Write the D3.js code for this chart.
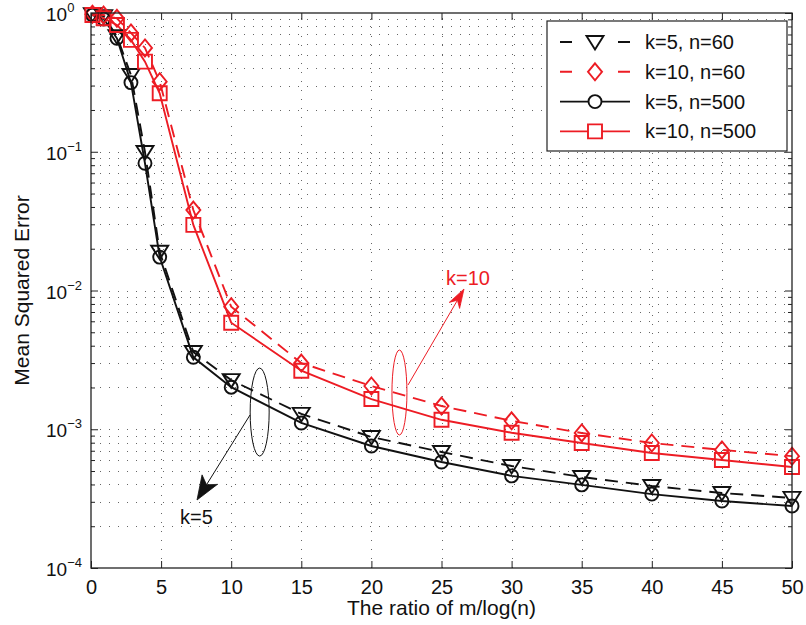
<!DOCTYPE html>
<html><head><meta charset="utf-8">
<script src="https://cdn.jsdelivr.net/npm/d3@7"></script>
<style>
body{margin:0;background:#fff;}
svg{display:block;font-family:"Liberation Sans",Arial,Helvetica,sans-serif;}
</style></head>
<body>
<svg id="chart" width="806" height="625"></svg>
<script>
// ---- data ----
const xValues = [0.1, 0.9, 1.85, 2.85, 3.85, 4.9, 7.3, 10, 15, 20, 25, 30, 35, 40, 45, 50];
const k5n60   = [0.98, 0.95, 0.68, 0.357, 0.0996, 0.019, 0.0036, 0.00226, 0.00129, 0.000879, 0.000686, 0.000543, 0.000453, 0.00039, 0.000347, 0.00032];
const k10n60  = [0.98, 0.967, 0.916, 0.718, 0.56, 0.32, 0.038, 0.00764, 0.0030, 0.00205, 0.00147, 0.00115, 0.00094, 0.000796, 0.00071, 0.00064];
const k5n500  = [0.967, 0.905, 0.657, 0.315, 0.0826, 0.0174, 0.0033, 0.00201, 0.00111, 0.000757, 0.000581, 0.000461, 0.000397, 0.000341, 0.000304, 0.00028];
const k10n500 = [0.967, 0.916, 0.82, 0.64, 0.446, 0.264, 0.0297, 0.00586, 0.00264, 0.00165, 0.00117, 0.000944, 0.000796, 0.000674, 0.0006, 0.000535];
const seriesNames = ["k=5, n=60", "k=10, n=60", "k=5, n=500", "k=10, n=500"];
const xTicks = [0, 5, 10, 15, 20, 25, 30, 35, 40, 45, 50];
const yDecades = [1e-4, 1e-3, 1e-2, 1e-1, 1];
const yExponents = ["−4", "−3", "−2", "−1", "0"];
const xLabel = "The ratio of m/log(n)";
const yLabel = "Mean Squared Error";
const annotations = ["k=5", "k=10"];

// ---- layout ----
const RED = "#ed1c24", BLK = "#111";
const svg = d3.select("#chart");
const L = 91, R = 792, T = 13, B = 568;
const x = d3.scaleLinear().domain([0, 50]).range([L, R]);
const y = d3.scaleLog().domain([1e-4, 1]).range([B, T]);

// minor log values
const minorVals = [];
for (let e = -4; e < 0; e++) for (let m = 2; m <= 9; m++) minorVals.push(m * Math.pow(10, e));

// grid
const grid = svg.append("g").attr("stroke", "#666").attr("stroke-width", 1).attr("stroke-dasharray", "1,8").attr("fill", "none");
minorVals.concat([1e-3, 1e-2, 1e-1]).forEach(v => {
  grid.append("line").attr("x1", L).attr("x2", R).attr("y1", Math.round(y(v)) + 0.5).attr("y2", Math.round(y(v)) + 0.5);
});
xTicks.slice(1, -1).forEach(v => {
  grid.append("line").attr("y1", B).attr("y2", T).attr("x1", Math.round(x(v)) + 0.5).attr("x2", Math.round(x(v)) + 0.5);
});

// axes via d3 axis generators (ticks inward)
const gB = svg.append("g").attr("transform", `translate(0,${B})`)
  .call(d3.axisBottom(x).tickValues(xTicks).tickSize(-7).tickFormat(d3.format("d")));
const gT = svg.append("g").attr("transform", `translate(0,${T})`)
  .call(d3.axisTop(x).tickValues(xTicks).tickSize(-7).tickFormat(""));
const gL = svg.append("g").attr("transform", `translate(${L},0)`)
  .call(d3.axisLeft(y).tickValues(yDecades).tickSize(-7).tickFormat(""));
const gLm = svg.append("g").attr("transform", `translate(${L},0)`)
  .call(d3.axisLeft(y).tickValues(minorVals).tickSize(-4).tickFormat(""));
const gR = svg.append("g").attr("transform", `translate(${R},0)`)
  .call(d3.axisRight(y).tickValues(yDecades).tickSize(-7).tickFormat(""));
const gRm = svg.append("g").attr("transform", `translate(${R},0)`)
  .call(d3.axisRight(y).tickValues(minorVals).tickSize(-4).tickFormat(""));
[gB, gT, gL, gLm, gR, gRm].forEach(g => {
  g.select(".domain").remove();
  g.selectAll(".tick line").attr("stroke", "#222").attr("stroke-width", 1);
});
gB.selectAll(".tick text").attr("font-size", 20).attr("fill", "#111").attr("dy", "0").attr("y", 26)
  .attr("font-family", "Liberation Sans, Arial, sans-serif");

// y tick labels 10^e
yDecades.forEach((v, i) => {
  const t = svg.append("text").attr("x", 46).attr("y", y(v) + 8).attr("font-size", 19).attr("fill", "#111");
  t.append("tspan").text("10");
  t.append("tspan").attr("dy", -9).attr("font-size", 13).text(yExponents[i]);
});

// axis titles
svg.append("text").attr("x", (L + R) / 2).attr("y", 615).attr("text-anchor", "middle")
  .attr("font-size", 21).attr("fill", "#111").text(xLabel);
svg.append("text").attr("transform", `translate(29,${(T + B) / 2}) rotate(-90)`).attr("text-anchor", "middle")
  .attr("font-size", 21).attr("fill", "#111").text(yLabel);

// series
const series = [
  {name: seriesNames[0], vals: k5n60,   color: BLK, dash: "13,8", marker: "tri"},
  {name: seriesNames[1], vals: k10n60,  color: RED, dash: "13,8", marker: "dia"},
  {name: seriesNames[2], vals: k5n500,  color: BLK, dash: null,   marker: "circ"},
  {name: seriesNames[3], vals: k10n500, color: RED, dash: null,   marker: "sq"}
];
const markerPath = {
  tri: "M-8.5,-6L8.5,-6L0,7.5Z",
  dia: "M0,-8.5L7,0L0,8.5L-7,0Z",
  sq: "M-7,-7L7,-7L7,7L-7,7Z"
};
function drawMarker(g, type, cx, cy, color, fill) {
  if (type === "circ") {
    g.append("circle").attr("cx", cx).attr("cy", cy).attr("r", 6.5)
      .attr("fill", fill).attr("stroke", color).attr("stroke-width", 1.9);
  } else {
    g.append("path").attr("d", markerPath[type]).attr("transform", `translate(${cx},${cy})`)
      .attr("fill", fill).attr("stroke", color).attr("stroke-width", 1.9).attr("stroke-linejoin", "miter");
  }
}
const line = d3.line().x(d => x(d[0])).y(d => y(d[1]));
const plot = svg.append("g");
series.forEach(s => {
  const pts = xValues.map((xv, i) => [xv, s.vals[i]]);
  plot.append("path").datum(pts).attr("d", line).attr("fill", "none")
    .attr("stroke", s.color).attr("stroke-width", 1.9)
    .attr("stroke-dasharray", s.dash);
});
series.forEach(s => {
  xValues.forEach((xv, i) => drawMarker(plot, s.marker, x(xv), y(s.vals[i]), s.color, "none"));
});

// frame
svg.append("rect").attr("x", L).attr("y", T).attr("width", R - L).attr("height", B - T)
  .attr("fill", "none").attr("stroke", "#222").attr("stroke-width", 1.3);

// annotations
function arrow(color, x1, y1, x2, y2, len, hw) {
  const g = svg.append("g");
  const ang = Math.atan2(y2 - y1, x2 - x1);
  const ux = Math.cos(ang), uy = Math.sin(ang), px = -uy, py = ux;
  const bx = x2 - ux * len, by = y2 - uy * len;
  const nx = x2 - ux * (len - 6), ny = y2 - uy * (len - 6);
  g.append("line").attr("x1", x1).attr("y1", y1).attr("x2", nx).attr("y2", ny)
    .attr("stroke", color).attr("stroke-width", 1);
  g.append("path").attr("d", `M${x2},${y2}L${bx + px * hw},${by + py * hw}L${nx},${ny}L${bx - px * hw},${by - py * hw}Z`)
    .attr("fill", color).attr("stroke", color).attr("stroke-width", 0.8);
}
svg.append("ellipse").attr("cx", x(12.03)).attr("cy", y(0.00133)).attr("rx", 9.5).attr("ry", 44)
  .attr("fill", "none").attr("stroke", BLK).attr("stroke-width", 1);
arrow(BLK, 250, 415, 197, 500, 24, 9);
svg.append("text").attr("x", 180).attr("y", 524).attr("font-size", 20).attr("fill", BLK).text(annotations[0]);

svg.append("ellipse").attr("cx", x(22.0)).attr("cy", y(0.00184)).attr("rx", 7.5).attr("ry", 42.5)
  .attr("fill", "none").attr("stroke", RED).attr("stroke-width", 1);
arrow(RED, 408, 385, 464, 289, 19, 6);
svg.append("text").attr("x", 446).attr("y", 285).attr("font-size", 20).attr("fill", RED).text(annotations[1]);

// legend
const lg = svg.append("g");
lg.append("rect").attr("x", 547).attr("y", 21).attr("width", 240).attr("height", 130)
  .attr("fill", "#fff").attr("stroke", "#222").attr("stroke-width", 1.2);
series.forEach((s, i) => {
  const ly = 42 + i * 29.8;
  lg.append("line").attr("x1", 560).attr("x2", 630).attr("y1", ly).attr("y2", ly)
    .attr("stroke", s.color).attr("stroke-width", 1.9)
    .attr("stroke-dasharray", s.dash ? "12,46" : null);
  drawMarker(lg, s.marker, 595, ly, s.color, "#fff");
  lg.append("text").attr("x", 645).attr("y", ly + 7).attr("font-size", 20).attr("fill", "#111").text(s.name);
});
</script>
</body></html>
